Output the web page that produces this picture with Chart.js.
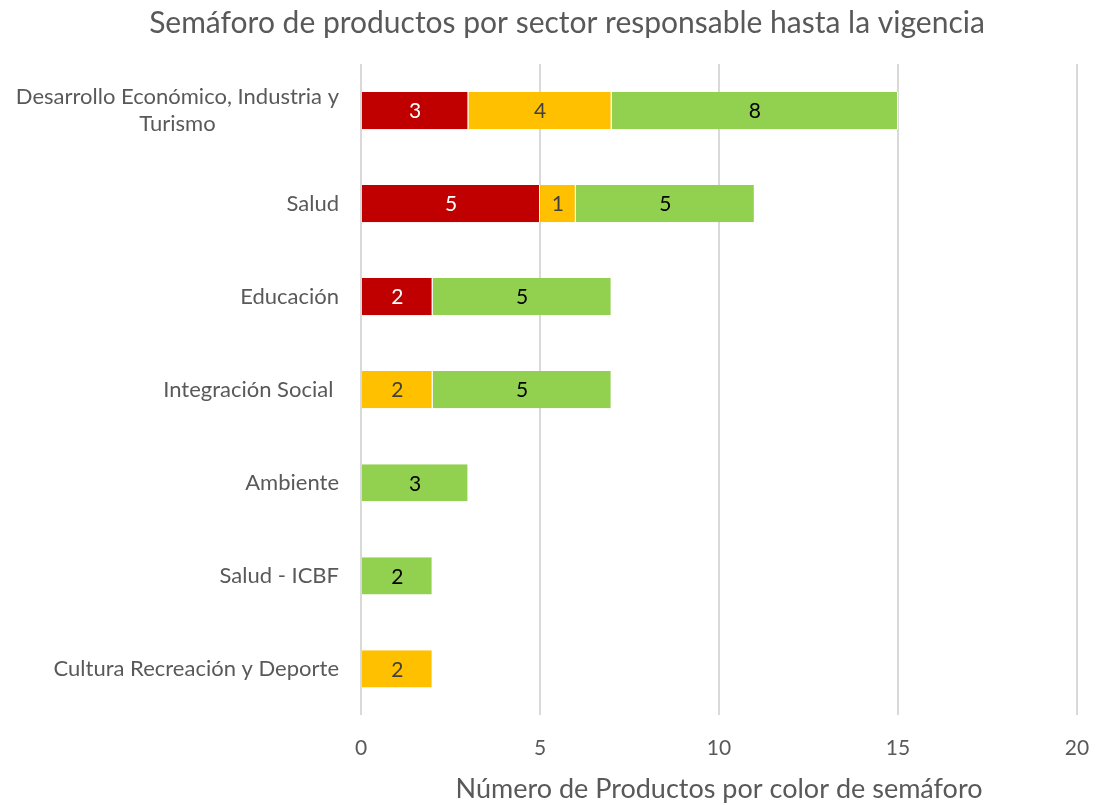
<!DOCTYPE html>
<html>
<head>
<meta charset="utf-8">
<script src="https://cdn.jsdelivr.net/npm/chart.js@4"></script>
<style>
  body { margin: 0; background: #fff; }
  canvas { display: block; }
</style>
</head>
<body>
<canvas id="semaforoChart" width="1096" height="805"></canvas>
<script>
const sectores = [
    ['Desarrollo Económico, Industria y', 'Turismo'],
    'Salud',
    'Educación',
    'Integración Social ',
    'Ambiente',
    'Salud - ICBF',
    'Cultura Recreación y Deporte'
];
const rojo = [3, 5, 2, 0, 0, 0, 0];
const amarillo = [4, 1, 0, 2, 0, 0, 2];
const verde = [8, 5, 5, 5, 3, 2, 0];
const xTicks = [0, 5, 10, 15, 20];

const titulo = 'Semáforo de productos por sector responsable hasta la vigencia';
const tituloEjeX = 'Número de Productos por color de semáforo';
const fontFamily = 'Lato, "Open Sans", sans-serif';
const gris = '#595959';

// labels inside each bar segment
const valueLabels = {
    id: 'valueLabels',
    afterDatasetsDraw(chart) {
        const c = chart.ctx;
        c.save();
        c.font = '21px ' + fontFamily;
        c.textAlign = 'center';
        c.textBaseline = 'middle';
        chart.data.datasets.forEach((ds, i) => {
            const meta = chart.getDatasetMeta(i);
            meta.data.forEach((bar, j) => {
                const v = ds.data[j];
                if (!v) return;
                c.fillStyle = ds.labelColor;
                c.fillText(v, (bar.x + bar.base) / 2, bar.y + 1);
            });
        });
        c.restore();
    }
};

// y labels: block right aligned, lines centered (like Excel)
const sectorLabels = {
    id: 'sectorLabels',
    afterDraw(chart) {
        const c = chart.ctx;
        const y = chart.scales.y;
        const right = chart.chartArea.left - 22;
        const lh = 27;
        c.save();
        c.font = '22px ' + fontFamily;
        c.fillStyle = gris;
        c.textBaseline = 'middle';
        sectores.forEach((lab, i) => {
            const lines = Array.isArray(lab) ? lab : [lab];
            const w = Math.max(...lines.map(l => c.measureText(l).width));
            const cx = right - w / 2;
            const yc = y.getPixelForTick(i);
            c.textAlign = 'center';
            lines.forEach((l, k) => {
                c.fillText(l, cx, yc + (k - (lines.length - 1) / 2) * lh);
            });
        });
        // chart title
        c.font = '30px ' + fontFamily;
        c.textAlign = 'center';
        c.fillText(titulo, 567, 23);
        c.restore();
    }
};

const ctx = document.getElementById('semaforoChart').getContext('2d');
const chart = new Chart(ctx, {
    type: 'bar',
    data: {
        labels: sectores,
        datasets: [
            { label: 'Rojo', data: rojo, backgroundColor: '#C00000', labelColor: '#FFFFFF' },
            { label: 'Amarillo', data: amarillo, backgroundColor: '#FFC000', labelColor: '#404040' },
            { label: 'Verde', data: verde, backgroundColor: '#92D050', labelColor: '#000000' }
        ].map(d => Object.assign(d, {
            borderColor: '#FFFFFF',
            borderWidth: { left: 0, right: 1, top: 0, bottom: 0 },
            borderSkipped: false,
            barPercentage: 0.4,
            categoryPercentage: 1
        }))
    },
    options: {
        indexAxis: 'y',
        responsive: false,
        animation: false,
        layout: { padding: { top: 64, right: 19, bottom: 0, left: 0 } },
        plugins: {
            legend: { display: false },
            tooltip: { enabled: false }
        },
        scales: {
            x: {
                stacked: true,
                min: 0,
                max: 20,
                afterBuildTicks: s => { s.ticks = xTicks.map(v => ({ value: v })); },
                grid: {
                    color: '#D9D9D9', lineWidth: 2,
                    drawTicks: true, tickLength: 18, tickColor: 'rgba(0,0,0,0)'
                },
                border: { display: false },
                ticks: { color: gris, font: { family: fontFamily, size: 21 }, padding: 2 },
                title: {
                    display: true,
                    text: tituloEjeX,
                    color: gris,
                    font: { family: fontFamily, size: 27 },
                    padding: { top: 10, bottom: 0 }
                }
            },
            y: {
                stacked: true,
                grid: { display: false },
                border: { display: false },
                ticks: { display: false },
                afterFit: s => { s.width = 361; }
            }
        }
    },
    plugins: [valueLabels, sectorLabels]
});
</script>
</body>
</html>
